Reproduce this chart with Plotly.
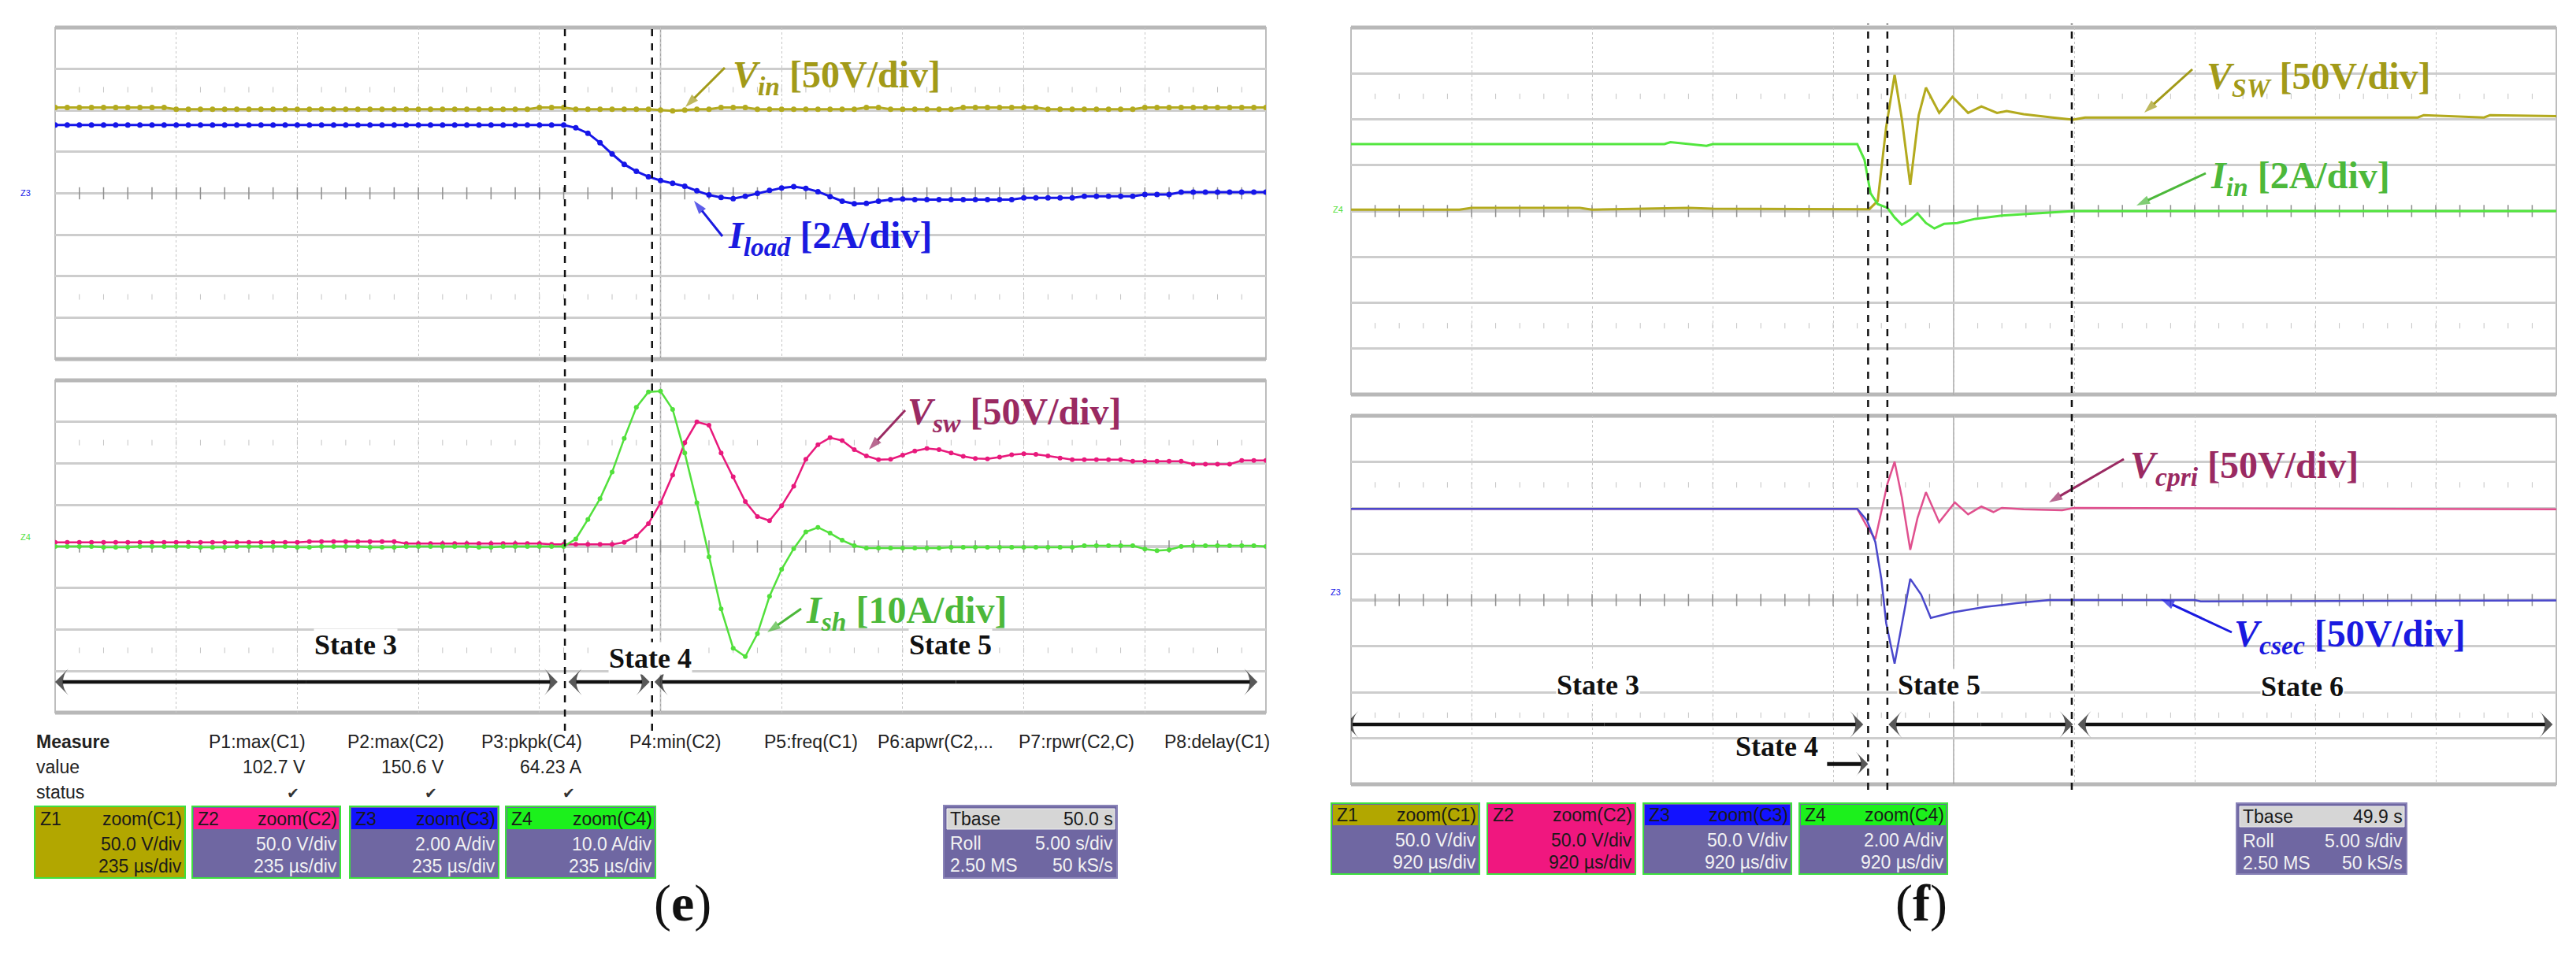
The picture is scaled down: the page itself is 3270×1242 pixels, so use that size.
import numpy as np
import plotly.graph_objects as go

# ------------------------------------------------------------------
# DATA  (time in divisions 0..10, amplitude in divisions, 0 = centre)
# ------------------------------------------------------------------
# panel (e): sampled every 0.1 div
t_e = [round(i * 0.1, 1) for i in range(101)]

vin_e = [2.07, 2.07, 2.07, 2.07, 2.07, 2.07, 2.07, 2.07, 2.07, 2.07,
         2.03, 2.03, 2.03, 2.03, 2.03, 2.03, 2.03, 2.03, 2.03, 2.03,
         2.03, 2.03, 2.03, 2.03, 2.03, 2.03, 2.03, 2.03, 2.03, 2.03,
         2.03, 2.03, 2.03, 2.03, 2.03, 2.03, 2.03, 2.03, 2.03, 2.03,
         2.07, 2.07, 2.07, 2.03, 2.03, 2.03, 2.03, 2.03, 2.03, 2.03,
         2.01, 1.99, 2.01, 2.03, 2.03, 2.07, 2.07, 2.07, 2.03, 2.03,
         2.03, 2.03, 2.03, 2.03, 2.03, 2.03, 2.03, 2.07, 2.07, 2.03,
         2.03, 2.03, 2.03, 2.03, 2.03, 2.07, 2.07, 2.07, 2.07, 2.07,
         2.07, 2.07, 2.03, 2.03, 2.03, 2.03, 2.03, 2.03, 2.03, 2.03,
         2.07, 2.07, 2.07, 2.07, 2.07, 2.07, 2.07, 2.07, 2.07, 2.07,
         2.07]

iload_e = [1.65, 1.65, 1.65, 1.65, 1.65, 1.65, 1.65, 1.65, 1.65, 1.65,
           1.65, 1.65, 1.65, 1.65, 1.65, 1.65, 1.65, 1.65, 1.65, 1.65,
           1.65, 1.65, 1.65, 1.65, 1.65, 1.65, 1.65, 1.65, 1.65, 1.65,
           1.65, 1.65, 1.65, 1.65, 1.65, 1.65, 1.65, 1.65, 1.65, 1.65,
           1.65, 1.65, 1.65, 1.58, 1.45, 1.22, 0.95, 0.70, 0.53, 0.40,
           0.31, 0.24, 0.17, 0.06, -0.04, -0.10, -0.13, -0.07, 0.00, 0.07,
           0.13, 0.16, 0.12, 0.04, -0.08, -0.19, -0.25, -0.24, -0.19, -0.15,
           -0.14, -0.15, -0.15, -0.15, -0.15, -0.15, -0.15, -0.15, -0.15, -0.15,
           -0.11, -0.11, -0.11, -0.11, -0.11, -0.07, -0.07, -0.07, -0.07, -0.07,
           -0.03, -0.03, -0.03, 0.03, 0.03, 0.03, 0.03, 0.03, 0.03, 0.03,
           0.03]

vsw_e = [0.10, 0.10, 0.10, 0.10, 0.10, 0.10, 0.10, 0.10, 0.10, 0.10,
         0.10, 0.10, 0.10, 0.10, 0.10, 0.10, 0.10, 0.10, 0.10, 0.10,
         0.10, 0.12, 0.12, 0.12, 0.12, 0.12, 0.12, 0.12, 0.12, 0.07,
         0.07, 0.07, 0.07, 0.07, 0.07, 0.07, 0.07, 0.07, 0.07, 0.07,
         0.07, 0.05, 0.05, 0.05, 0.05, 0.05, 0.05, 0.10, 0.25, 0.55,
         1.05, 1.72, 2.50, 3.00, 2.92, 2.25, 1.68, 1.08, 0.72, 0.62,
         0.98, 1.45, 2.10, 2.45, 2.62, 2.55, 2.33, 2.18, 2.09, 2.10,
         2.20, 2.30, 2.36, 2.33, 2.25, 2.17, 2.12, 2.11, 2.15, 2.21,
         2.23, 2.22, 2.18, 2.13, 2.09, 2.09, 2.09, 2.09, 2.09, 2.05,
         2.05, 2.05, 2.05, 2.05, 1.98, 1.98, 1.98, 1.98, 2.07, 2.07,
         2.07]

ish_e = [0.00, 0.00, 0.00, 0.00, -0.02, -0.02, -0.02, 0.00, 0.00, 0.00,
         0.00, 0.00, -0.02, -0.02, -0.02, 0.00, 0.00, 0.00, 0.00, 0.00,
         -0.02, -0.02, 0.00, 0.00, 0.00, 0.00, -0.02, -0.02, -0.02, 0.00,
         0.00, 0.00, 0.00, 0.00, 0.00, -0.02, -0.02, 0.00, 0.00, 0.00,
         0.00, 0.00, 0.00, 0.18, 0.65, 1.15, 1.79, 2.60, 3.35, 3.72,
         3.74, 3.30, 2.25, 1.05, -0.25, -1.50, -2.45, -2.65, -2.10, -1.20,
         -0.55, -0.05, 0.35, 0.46, 0.32, 0.15, 0.02, -0.04, -0.04, -0.04,
         -0.04, -0.04, -0.04, -0.04, -0.02, -0.02, -0.02, -0.02, -0.02, -0.02,
         -0.02, -0.02, -0.02, -0.02, -0.02, 0.02, 0.02, 0.02, 0.02, 0.02,
         -0.06, -0.10, -0.08, 0.00, 0.02, 0.02, 0.02, 0.02, 0.02, 0.02,
         0.00]

# panel (f): breakpoints
vsw_f_t = [0, 0.9, 1.0, 1.9, 2.0, 2.8, 3.0, 4.30, 4.37, 4.44, 4.51, 4.57, 4.64, 4.71,
           4.77, 4.88, 4.99, 5.12, 5.23, 5.36, 5.44, 5.58, 5.82, 5.99, 6.09, 8.85,
           8.9, 9.4, 9.45, 10]
vsw_f_v = [0.03, 0.03, 0.07, 0.07, 0.03, 0.07, 0.05, 0.04, 0.22, 1.83, 2.97, 2.01, 0.57,
           2.09, 2.69, 2.14, 2.49, 2.14, 2.28, 2.14, 2.18, 2.11, 2.04, 1.99, 2.04, 2.04,
           2.09, 2.04, 2.09, 2.07]

iin_f_t = [0, 2.6, 2.65, 2.95, 3.0, 4.20, 4.26, 4.31, 4.37, 4.45, 4.51, 4.57, 4.64, 4.70,
           4.77, 4.84, 4.92, 5.03, 5.18, 5.40, 5.58, 5.79, 6.0, 10]
iin_f_v = [1.46, 1.46, 1.50, 1.42, 1.46, 1.46, 1.12, 0.39, 0.15, 0.07, -0.14, -0.30, -0.19,
           -0.05, -0.26, -0.38, -0.28, -0.26, -0.17, -0.10, -0.07, -0.03, 0.0, 0.0]

vcpri_f_t = [0, 4.20, 4.28, 4.35, 4.45, 4.51, 4.57, 4.64, 4.70, 4.77, 4.88, 5.01, 5.12,
             5.23, 5.33, 5.40, 5.58, 5.9, 6.0, 10]
vcpri_f_v = [1.98, 1.98, 1.60, 1.32, 2.52, 3.00, 2.23, 1.09, 1.78, 2.34, 1.69, 2.12, 1.86,
             2.03, 1.91, 2.00, 1.97, 1.95, 2.0, 1.97]

vcsec_f_t = [0, 4.20, 4.28, 4.35, 4.40, 4.44, 4.51, 4.57, 4.64, 4.73, 4.81, 4.99, 5.26,
             5.52, 5.79, 7.0, 7.05, 10]
vcsec_f_v = [1.98, 1.98, 1.73, 1.26, 0.46, -0.50, -1.38, -0.56, 0.46, 0.12, -0.39, -0.27,
             -0.15, -0.07, 0.0, 0.0, -0.03, -0.01]

# state boundaries (div) and state spans
e_bounds = [4.21, 4.93]
f_bounds = [4.29, 4.45, 5.98]
e_states = [("State 3", 0.0, 4.15), ("State 4", 4.24, 4.91), ("State 5", 4.95, 9.93)]
f_states = [("State 3", -0.05, 4.25), ("State 5", 4.46, 5.99), ("State 6", 6.03, 9.97)]

# measurement table (e)
measure_hdr = ["P1:max(C1)", "P2:max(C2)", "P3:pkpk(C4)", "P4:min(C2)", "P5:freq(C1)",
               "P6:apwr(C2,...", "P7:rpwr(C2,C)", "P8:delay(C1)"]
measure_val = ["102.7 V", "150.6 V", "64.23 A"]

# channel boxes
e_boxes = [("Z1", "zoom(C1)", "50.0 V/div", "235 µs/div"),
           ("Z2", "zoom(C2)", "50.0 V/div", "235 µs/div"),
           ("Z3", "zoom(C3)", "2.00 A/div", "235 µs/div"),
           ("Z4", "zoom(C4)", "10.0 A/div", "235 µs/div")]
f_boxes = [("Z1", "zoom(C1)", "50.0 V/div", "920 µs/div"),
           ("Z2", "zoom(C2)", "50.0 V/div", "920 µs/div"),
           ("Z3", "zoom(C3)", "50.0 V/div", "920 µs/div"),
           ("Z4", "zoom(C4)", "2.00 A/div", "920 µs/div")]
e_tbase = ("50.0 s", "5.00 s/div", "2.50 MS", "50 kS/s")
f_tbase = ("49.9 s", "5.00 s/div", "2.50 MS", "50 kS/s")

# ------------------------------------------------------------------
W, H = 3270, 1242


def px(x):
    return x / W


def py(y):
    return 1 - y / H


C_OLIVE = "#b3aa1e"
C_BLUE = "#1616e8"
C_PINK = "#e8197c"
C_GREEN = "#52e03c"
C_PINK_F = "#e0508e"
C_BLUE_F = "#4a48cc"
C_GREEN_F = "#52e63e"
L_OLIVE = "#a29a18"
L_BLUE = "#1a1ae0"
L_MAROON = "#9a2a62"
L_GREEN = "#4cb83a"

fig = go.Figure()

panels = {
    "": ((62, 1599), (27, 448)),
    "2": ((62, 1599), (475, 897)),
    "3": ((1707, 3237), (27, 493)),
    "4": ((1707, 3237), (520, 988)),
}

shapes = []
for sfx, ((x0, x1), (y0, y1)) in panels.items():
    fig.layout["xaxis" + sfx] = dict(
        domain=[px(x0), px(x1)], range=[0, 10], anchor="y" + sfx,
        showticklabels=False, ticks="", zeroline=False,
        showgrid=True, dtick=1, tick0=0, gridcolor="#c6c6c6", gridwidth=1,
        griddash="dot", showline=False, fixedrange=True)
    fig.layout["yaxis" + sfx] = dict(
        domain=[py(y1), py(y0)], range=[-4, 4], anchor="x" + sfx,
        showticklabels=False, ticks="", zeroline=False,
        showgrid=True, dtick=1, tick0=0, gridcolor="#cdcdcd", gridwidth=3,
        showline=False, fixedrange=True)
    xr = "x" + sfx
    yr = "y" + sfx
    # frame
    shapes.append(dict(type="rect", xref=xr + " domain", yref=yr + " domain",
                       x0=0, x1=1, y0=0, y1=1, line=dict(color="#bdbdbd", width=2),
                       layer="below"))
    for yy in (0, 1):
        shapes.append(dict(type="line", xref=xr + " domain", yref=yr + " domain",
                           x0=0, x1=1, y0=yy, y1=yy,
                           line=dict(color="#b8b8b8", width=5), layer="below"))
    # central vertical + horizontal
    shapes.append(dict(type="line", xref=xr, yref=yr + " domain", x0=5, x1=5, y0=0, y1=1,
                       line=dict(color="#a4a4a4", width=1.5), layer="below"))
    shapes.append(dict(type="line", xref=xr + " domain", yref=yr, x0=0, x1=1, y0=0, y1=0,
                       line=dict(color="#a8a8a8", width=3), layer="below"))
    # graticule ticks
    tx = [round(0.2 * k, 1) for k in range(1, 50)]
    fig.add_trace(go.Scatter(
        x=tx, y=[0] * len(tx), xaxis=xr, yaxis=yr, mode="markers",
        marker=dict(symbol="line-ns", size=11, line=dict(color="#8e8e8e", width=1.5)),
        hoverinfo="skip", showlegend=False))
    for lv in (2.5, -2.5):
        fig.add_trace(go.Scatter(
            x=tx, y=[lv] * len(tx), xaxis=xr, yaxis=yr, mode="markers",
            marker=dict(symbol="line-ns", size=5, line=dict(color="#c4c4c4", width=1)),
            hoverinfo="skip", showlegend=False))

# overlay axis in page pixels (for leader arrows)
fig.layout["xaxis5"] = dict(domain=[0, 1], range=[0, W], anchor="y5", visible=False,
                            fixedrange=True)
fig.layout["yaxis5"] = dict(domain=[0, 1], range=[H, 0], anchor="x5", visible=False,
                            fixedrange=True)


def trace(xr, yr, x, y, color, width, msize=None):
    fig.add_trace(go.Scatter(
        x=x, y=y, xaxis=xr, yaxis=yr,
        mode="lines+markers" if msize else "lines",
        line=dict(color=color, width=width),
        marker=dict(size=msize, color=color) if msize else None,
        hoverinfo="skip", showlegend=False))


# (e) traces
trace("x", "y", t_e, vin_e, C_OLIVE, 3, 7)
trace("x", "y", t_e, iload_e, C_BLUE, 3, 7)
trace("x2", "y2", t_e, vsw_e, C_PINK, 2.5, 6)
trace("x2", "y2", t_e, ish_e, C_GREEN, 2.5, 6)
# (f) traces
trace("x3", "y3", vsw_f_t, vsw_f_v, C_OLIVE, 3)
trace("x3", "y3", iin_f_t, iin_f_v, C_GREEN_F, 3)
trace("x4", "y4", vcpri_f_t, vcpri_f_v, C_PINK_F, 2.5)
trace("x4", "y4", vcsec_f_t, vcsec_f_v, C_BLUE_F, 2.5)


def arrow(xr, yr, x_from, y_from, x_to, y_to, color, width, head, sym="arrow"):
    """line with an arrow head at (x_to, y_to)"""
    fig.add_trace(go.Scatter(
        x=[x_from, x_to], y=[y_from, y_to], xaxis=xr, yaxis=yr, mode="lines+markers",
        line=dict(color=color, width=width),
        marker=dict(symbol=["circle", sym], size=[0, head], color=color,
                    angleref="previous", line=dict(width=0)),
        hoverinfo="skip", showlegend=False))


# state boundary dashed lines
for b in e_bounds:
    shapes.append(dict(type="line", xref="x", yref="paper", x0=b, x1=b,
                       y0=py(920), y1=py(22), line=dict(color="#111", width=2.5, dash="dash")))
for b in f_bounds:
    shapes.append(dict(type="line", xref="x3", yref="paper", x0=b, x1=b,
                       y0=py(995), y1=py(22), line=dict(color="#111", width=2.5, dash="dash")))

ann = []

SERIF = "Liberation Serif"
SANS = "Liberation Sans"


def label(x, y, text, color, anchor="left", size=48):
    ann.append(dict(x=px(x), y=py(y), xref="paper", yref="paper", text=text, showarrow=False,
                    xanchor=anchor, yanchor="middle",
                    font=dict(family=SERIF, size=size, color=color)))


def pointer(hx, hy, tx_, ty_, color):
    arrow("x5", "y5", tx_, ty_, hx, hy, color, 3, 18)


label(920, 90, "<b><i>V</i><sub><i>in</i></sub> [50V/div]</b>", L_OLIVE)
pointer(862, 128, 912, 78, L_OLIVE)
label(914, 294, "<b><i>I</i><sub><i>load</i></sub> [2A/div]</b>", L_BLUE)
pointer(873, 247, 909, 292, L_BLUE)
label(1142, 518, "<b><i>V</i><sub><i>sw</i></sub> [50V/div]</b>", L_MAROON)
pointer(1095, 563, 1141, 513, L_MAROON)
label(1013, 770, "<b><i>I</i><sub><i>sh</i></sub> [10A/div]</b>", L_GREEN)
pointer(966, 795, 1009, 765, L_GREEN)

label(2791, 92, "<b><i>V</i><sub><i>SW</i></sub> [50V/div]</b>", L_OLIVE)
pointer(2714, 135, 2775, 80, L_OLIVE)
label(2796, 218, "<b><i>I</i><sub><i>in</i></sub> [2A/div]</b>", L_GREEN)
pointer(2704, 253, 2792, 212, L_GREEN)
label(2694, 586, "<b><i>V</i><sub><i>cpri</i></sub> [50V/div]</b>", L_MAROON)
pointer(2593, 630, 2688, 575, L_MAROON)
label(2826, 800, "<b><i>V</i><sub><i>csec</i></sub> [50V/div]</b>", L_BLUE)
pointer(2735, 753, 2825, 795, L_BLUE)

# state arrows + labels
for (name, a, b), cx, cy in zip(e_states, [390, 764, 1198], [832, 828, 832]):
    mid = (a + b) / 2
    arrow("x2", "y2", mid, -3.26, a, -3.26, "#111", 4.5, 24, "arrow-wide")
    arrow("x2", "y2", mid, -3.26, b, -3.26, "#111", 4.5, 24, "arrow-wide")
    ann.append(dict(x=px(cx), y=py(cy), xref="paper", yref="paper", text=f"<b>{name}</b>",
                    showarrow=False, bgcolor="white", borderpad=0,
                    font=dict(family=SERIF, size=36, color="#111")))
for (name, a, b), cx, cy in zip(f_states, [2020, 2507, 2968], [883, 883, 885]):
    mid = (a + b) / 2
    arrow("x4", "y4", mid, -2.70, a, -2.70, "#111", 4.5, 24, "arrow-wide")
    arrow("x4", "y4", mid, -2.70, b, -2.70, "#111", 4.5, 24, "arrow-wide")
    ann.append(dict(x=px(cx), y=py(cy), xref="paper", yref="paper", text=f"<b>{name}</b>",
                    showarrow=False, bgcolor="white", borderpad=0,
                    font=dict(family=SERIF, size=36, color="#111")))
ann.append(dict(x=px(2302), y=py(962), xref="paper", yref="paper", text="<b>State 4</b>",
                showarrow=False, xanchor="right", font=dict(family=SERIF, size=36, color="#111")))
arrow("x4", "y4", 3.95, -3.56, f_bounds[0], -3.56, "#111", 5, 22, "arrow-wide")

# channel markers at the left edge
for x, y, t, c in [(16, 229, "Z3", C_BLUE), (16, 674, "Z4", C_GREEN),
                   (1690, 250, "Z4", C_GREEN), (1688, 744, "Z3", C_BLUE)]:
    ann.append(dict(x=px(x), y=py(y), xref="paper", yref="paper", text=t, showarrow=False,
                    font=dict(family=SANS, size=11, color=c)))


# ---------------- measurement table (e) ----------------
def txt(x, y, t, anchor="left", size=23, color="#222", bold=False):
    ann.append(dict(x=px(x), y=py(y), xref="paper", yref="paper",
                    text=f"<b>{t}</b>" if bold else t, showarrow=False,
                    xanchor=anchor, yanchor="middle",
                    font=dict(family=SANS, size=size, color=color)))


txt(36, 934, "Measure", bold=True)
txt(36, 966, "value")
txt(36, 998, "status")
for t, xr_ in zip(measure_hdr, [382, 558, 733, 909, 1083, 1255, 1434, 1606]):
    txt(xr_, 934, t, anchor="right")
for t, xr_ in zip(measure_val, [382, 558, 733]):
    txt(xr_, 966, t, anchor="right")
for xr_ in [374, 549, 724]:
    ann.append(dict(x=px(xr_), y=py(999), xref="paper", yref="paper", text="✔",
                    showarrow=False, xanchor="right", yanchor="middle",
                    font=dict(family="DejaVu Sans", size=19, color="#333")))

PURPLE = "#6f67a2"
HDR = {"Z1": "#b2a700", "Z2": "#ff1a8a", "Z3": "#1212ff", "Z4": "#1cf01c"}


def box(x0, x1, y0, y1, hdr_h, entry, full_color=None):
    z, zoom, l1, l2 = entry
    body = full_color if full_color else PURPLE
    shapes.append(dict(type="rect", xref="paper", yref="paper", x0=px(x0), x1=px(x1),
                       y0=py(y1), y1=py(y0), fillcolor=body,
                       line=dict(color="#3ee03e", width=2)))
    shapes.append(dict(type="rect", xref="paper", yref="paper", x0=px(x0 + 2), x1=px(x1 - 2),
                       y0=py(y0 + hdr_h), y1=py(y0 + 2),
                       fillcolor=HDR[z] if not full_color else full_color,
                       line=dict(width=0)))
    dark = full_color is not None
    tc = "#1a1a1a" if dark else "#f2f2f2"
    txt(x0 + 5, y0 + hdr_h / 2 + 1, z, color="#1a1a1a")
    txt(x1 - 2, y0 + hdr_h / 2 + 1, zoom, anchor="right", color="#1a1a1a")
    txt(x1 - 2, y0 + hdr_h + 19, l1, anchor="right", color=tc)
    txt(x1 - 2, y0 + hdr_h + 47, l2, anchor="right", color=tc)


def tbase(x0, x1, y0, y1, vals):
    shapes.append(dict(type="rect", xref="paper", yref="paper", x0=px(x0), x1=px(x1),
                       y0=py(y1), y1=py(y0), fillcolor=PURPLE,
                       line=dict(color="#8a84b8", width=2)))
    shapes.append(dict(type="rect", xref="paper", yref="paper", x0=px(x0 + 4), x1=px(x1 - 3),
                       y0=py(y0 + 30), y1=py(y0 + 4), fillcolor="#d6d6d6",
                       line=dict(color="#eeeeee", width=1)))
    txt(x0 + 6, y0 + 17, "Tbase", color="#1a1a1a")
    txt(x1 - 3, y0 + 17, vals[0], anchor="right", color="#1a1a1a")
    txt(x0 + 6, y0 + 48, "Roll", color="#f2f2f2")
    txt(x1 - 3, y0 + 48, vals[1], anchor="right", color="#f2f2f2")
    txt(x0 + 6, y0 + 76, vals[2], color="#f2f2f2")
    txt(x1 - 3, y0 + 76, vals[3], anchor="right", color="#f2f2f2")


e_x = [(36, 227), (236, 424), (436, 625), (634, 824)]
for (x0, x1), entry in zip(e_x, e_boxes):
    box(x0, x1, 1016, 1107, 29, entry, full_color=HDR["Z1"] if entry[0] == "Z1" else None)
tbase(1190, 1410, 1015, 1107, e_tbase)

f_x = [(1682, 1870), (1880, 2068), (2078, 2266), (2276, 2464)]
for (x0, x1), entry in zip(f_x, f_boxes):
    box(x0, x1, 1012, 1102, 28, entry, full_color="#f0177f" if entry[0] == "Z2" else None)
tbase(2831, 3047, 1012, 1102, f_tbase)

# panel captions
ann.append(dict(x=px(820), y=py(1178), xref="paper", yref="paper",
                text="(<b>e</b>)", showarrow=False,
                font=dict(family=SERIF, size=66, color="#111")))
ann.append(dict(x=px(2466), y=py(1178), xref="paper", yref="paper",
                text="(<b>f</b>)", showarrow=False,
                font=dict(family=SERIF, size=66, color="#111")))

fig.update_layout(width=W, height=H, margin=dict(l=0, r=0, t=0, b=0),
                  paper_bgcolor="white", plot_bgcolor="rgba(0,0,0,0)",
                  shapes=shapes, annotations=ann, showlegend=False)

fig.write_html("out.html")
